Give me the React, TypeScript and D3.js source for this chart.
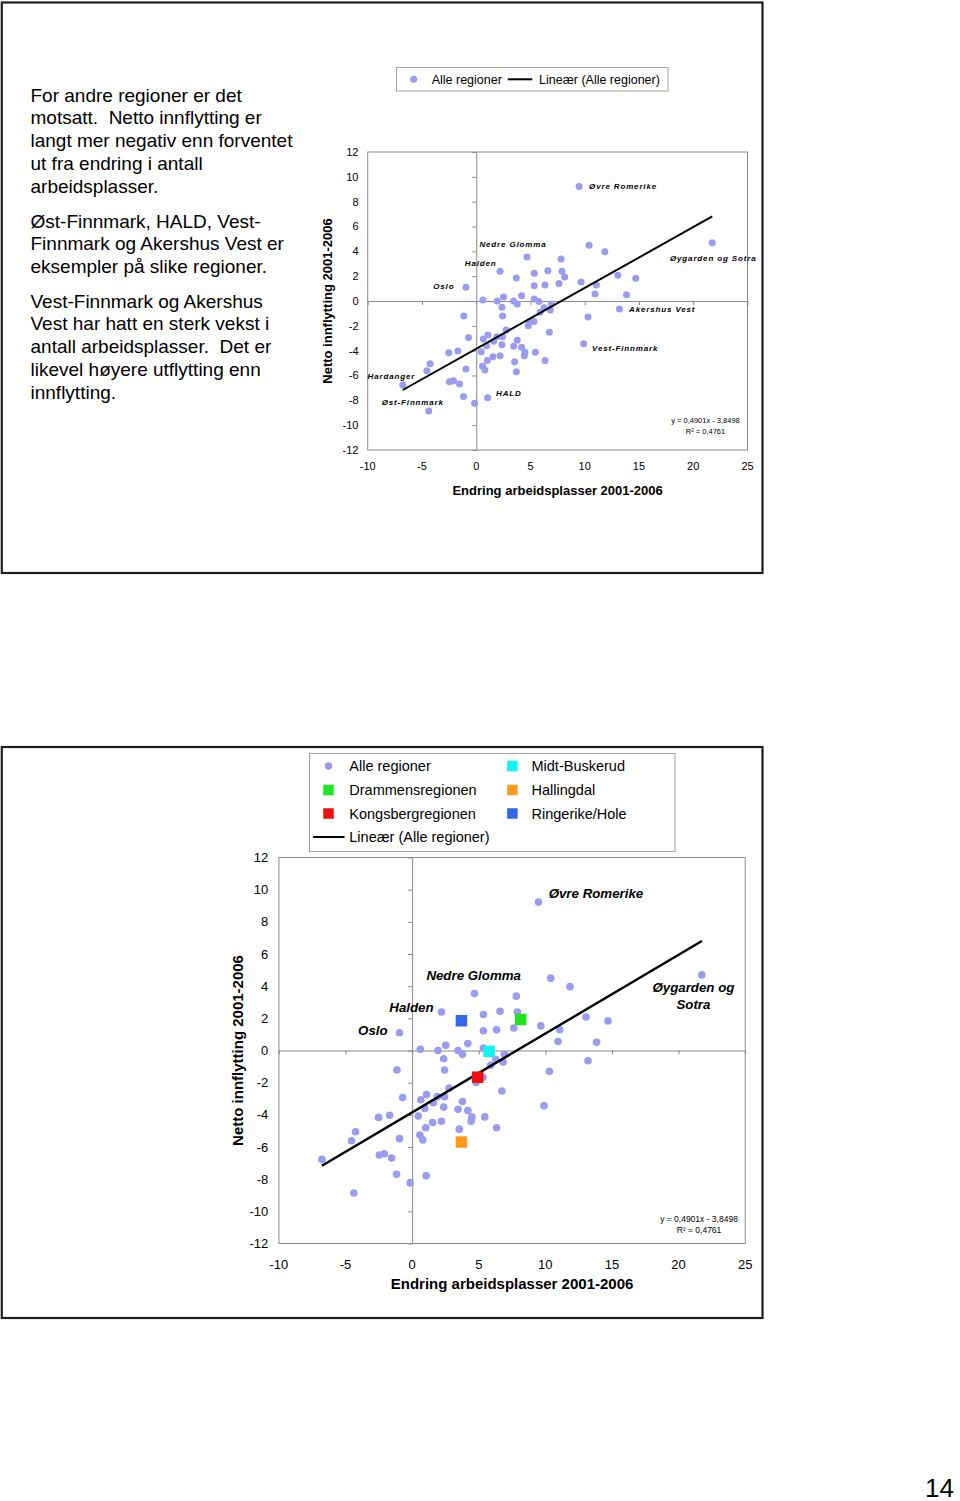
import React, { useEffect, useRef } from "react";
import * as d3 from "d3";

// Endring arbeidsplasser (x) og netto innflytting (y), 2001-2006, alle regioner
const alleRegioner: [number, number][] = [
  [9.48, 9.23], [10.4, 4.5], [11.85, 3.97], [21.75, 4.7], [4.68, 3.54],
  [7.82, 3.38], [2.2, 2.39], [3.7, 1.85], [5.35, 2.24], [6.6, 2.44],
  [7.9, 2.39], [8.15, 1.93], [9.66, 1.53], [13.05, 2.08], [14.7, 1.84],
  [-0.95, 1.1], [5.35, 1.23], [6.34, 1.29], [7.63, 1.4], [11.08, 1.29],
  [10.95, 0.56], [13.85, 0.51], [0.62, 0.08], [1.94, 0.0], [2.37, -0.51],
  [2.52, 0.32], [3.45, 0.0], [3.78, -0.24], [4.18, 0.43], [5.35, 0.16],
  [5.78, -0.05], [6.28, -0.54], [6.92, -0.24], [6.83, -0.72], [5.9, -0.91],
  [13.2, -0.64], [-1.14, -1.21], [2.43, -1.21], [10.3, -1.29], [5.32, -1.66],
  [4.92, -1.66], [4.8, -1.99], [-0.71, -2.93], [2.77, -2.34], [1.9, -2.87],
  [2.43, -2.87], [1.08, -2.74], [0.65, -3.06], [1.6, -3.25], [0.95, -3.6],
  [2.37, -3.52], [3.78, -3.17], [3.45, -3.65], [4.18, -3.73], [4.49, -4.13],
  [4.43, -4.4], [5.45, -4.13], [6.74, -2.52], [9.9, -3.44], [-2.52, -4.16],
  [-1.69, -4.03], [0.46, -4.08], [2.2, -4.4], [1.54, -4.48], [1.02, -4.8],
  [3.54, -4.89], [6.34, -4.8], [-4.25, -5.05], [-4.55, -5.61], [-0.95, -5.48],
  [0.58, -5.26], [0.8, -5.56], [3.7, -5.69], [-6.77, -6.77], [-2.46, -6.5],
  [-2.09, -6.42], [-1.54, -6.68], [-1.17, -7.7], [1.05, -7.79], [-0.15, -8.24],
  [-4.37, -8.86],
];

// which point belongs to a named region
const regionIndex: Record<string, number> = {
  "Øvre Romerike": 0,
  "Øygarden og Sotra": 3,
  "Nedre Glomma": 4,
  "Halden": 6,
  "Ringerike/Hole": 7,
  "Drammensregionen": 11,
  "Oslo": 15,
  "Midt-Buskerud": 30,
  "Akershus Vest": 35,
  "Kongsbergregionen": 40,
  "Vest-Finnmark": 58,
  "Hallingdal": 72,
  "Hardanger": 73,
  "Øst-Finnmark": 80,
};

const highlightRegions = ["Drammensregionen", "Kongsbergregionen", "Midt-Buskerud", "Hallingdal", "Ringerike/Hole"];
const highlightColors = ["#1ee61e", "#ee1111", "#11f5f5", "#ff9a1e", "#3366ee"];

const xTicks = [-10, -5, 0, 5, 10, 15, 20, 25];
const yTicks = [-12, -10, -8, -6, -4, -2, 0, 2, 4, 6, 8, 10, 12];

const trendSlope = 0.4901;
const trendIntercept = -3.8498;
const trendText = ["y = 0,4901x - 3,8498", "R² = 0,4761"];

const xTitle = "Endring arbeidsplasser 2001-2006";
const yTitle = "Netto innflytting 2001-2006";
const dotName = "Alle regioner";
const lineName = "Lineær (Alle regioner)";

const paragraphs = [
  ["For andre regioner er det", "motsatt.  Netto innflytting er", "langt mer negativ enn forventet", "ut fra endring i antall", "arbeidsplasser."],
  ["Øst-Finnmark, HALD, Vest-", "Finnmark og Akershus Vest er", "eksempler på slike regioner."],
  ["Vest-Finnmark og Akershus", "Vest har hatt en sterk vekst i", "antall arbeidsplasser.  Det er", "likevel høyere utflytting enn", "innflytting."],
];

const FONT = "'Liberation Sans', Arial, Helvetica, sans-serif";
const DOT = "#9b9bef";
const GREY = "#8a8a8a";

type Label = { name: string; text: string[]; dx: number; dy: number; anchor: string };

const topChart = {
  left: 367.7, right: 747.5, top: 152, bottom: 450,
  tickFont: 11, yLabelRight: 358.5, xLabelBaseline: 470, tickLen: 4,
  dotR: 3.5, lineWidth: 2,
  labelFont: 8, labelSpacing: 0.85, labelGap: 10,
  yTitleX: 327, yTitleFont: 13, xTitleFont: 13, xTitleBaseline: 494.5,
  eqFont: 7.5, eqX: 705.5, eqY: [423.3, 434],
  squares: false, squareSize: 11.5,
  labels: [
    { name: "Øvre Romerike", text: ["Øvre Romerike"], dx: 10, dy: 0, anchor: "start" },
    { name: "Nedre Glomma", text: ["Nedre Glomma"], dx: -14, dy: -12.7, anchor: "middle" },
    { name: "Halden", text: ["Halden"], dx: -3.5, dy: -8, anchor: "end" },
    { name: "Oslo", text: ["Oslo"], dx: -11.5, dy: -1.3, anchor: "end" },
    { name: "Øygarden og Sotra", text: ["Øygarden og Sotra"], dx: 1, dy: 15.7, anchor: "middle" },
    { name: "Akershus Vest", text: ["Akershus Vest"], dx: 9.6, dy: 0.4, anchor: "start" },
    { name: "Vest-Finnmark", text: ["Vest-Finnmark"], dx: 8.4, dy: 4.6, anchor: "start" },
    { name: "Hardanger", text: ["Hardanger"], dx: -11.3, dy: -8.8, anchor: "middle" },
    { name: "Øst-Finnmark", text: ["Øst-Finnmark"], dx: -16, dy: -8.7, anchor: "middle" },
    { name: "Hallingdal", text: ["HALD"], dx: -20.3, dy: 21.6, anchor: "start" },
  ] as Label[],
};

const bottomChart = {
  left: 278.9, right: 745.2, top: 857.5, bottom: 1243.5,
  tickFont: 13, yLabelRight: 268.3, xLabelBaseline: 1269, tickLen: 4,
  dotR: 3.8, lineWidth: 2.4,
  labelFont: 13.3, labelSpacing: 0, labelGap: 16.7,
  yTitleX: 238, yTitleFont: 15, xTitleFont: 15, xTitleBaseline: 1288.5,
  eqFont: 8.5, eqX: 699, eqY: [1221.5, 1233.3],
  squares: true, squareSize: 11.5,
  labels: [
    { name: "Øvre Romerike", text: ["Øvre Romerike"], dx: 10.2, dy: -9, anchor: "start" },
    { name: "Nedre Glomma", text: ["Nedre Glomma"], dx: -0.8, dy: -17.8, anchor: "middle" },
    { name: "Halden", text: ["Halden"], dx: -7.8, dy: -4.3, anchor: "end" },
    { name: "Oslo", text: ["Oslo"], dx: -11.8, dy: -2, anchor: "end" },
    { name: "Øygarden og Sotra", text: ["Øygarden og", "Sotra"], dx: -8.5, dy: 12.4, anchor: "middle" },
  ] as Label[],
};

function drawChart(svg: any, c: typeof topChart) {
  const g = svg.append("g").attr("font-family", FONT);
  const x = d3.scaleLinear().domain([xTicks[0], xTicks[xTicks.length - 1]]).range([c.left, c.right]);
  const y = d3.scaleLinear().domain([yTicks[0], yTicks[yTicks.length - 1]]).range([c.bottom, c.top]);

  g.append("rect")
    .attr("x", c.left).attr("y", c.top)
    .attr("width", c.right - c.left).attr("height", c.bottom - c.top)
    .attr("fill", "#fff").attr("stroke", GREY).attr("stroke-width", 1);

  // axes cross at zero, ticks on them
  const vAxis = g.append("g")
    .attr("transform", `translate(${x(0)},0)`)
    .call(d3.axisLeft(y).tickValues(yTicks).tickSize(c.tickLen).tickSizeOuter(0));
  const hAxis = g.append("g")
    .attr("transform", `translate(0,${y(0)})`)
    .call(d3.axisBottom(x).tickValues(xTicks).tickSize(c.tickLen).tickSizeOuter(0));
  [vAxis, hAxis].forEach((a) => {
    a.attr("color", GREY);
    a.selectAll("text").remove();
  });

  // tick labels sit at the edges of the plot
  g.append("g").selectAll("text").data(yTicks).join("text")
    .attr("x", c.yLabelRight).attr("y", (d: number) => y(d)).attr("dy", "0.35em")
    .attr("text-anchor", "end").attr("font-size", c.tickFont).attr("fill", "#000")
    .text((d: number) => String(d));
  g.append("g").selectAll("text").data(xTicks).join("text")
    .attr("x", (d: number) => x(d)).attr("y", c.xLabelBaseline)
    .attr("text-anchor", "middle").attr("font-size", c.tickFont).attr("fill", "#000")
    .text((d: number) => String(d));

  g.append("g").selectAll("circle").data(alleRegioner).join("circle")
    .attr("cx", (d: [number, number]) => x(d[0]))
    .attr("cy", (d: [number, number]) => y(d[1]))
    .attr("r", c.dotR).attr("fill", DOT);

  const [x0, x1] = d3.extent(alleRegioner, (d) => d[0]) as [number, number];
  const trend = (v: number) => trendSlope * v + trendIntercept;
  g.append("path")
    .attr("d", d3.line()([[x(x0), y(trend(x0))], [x(x1), y(trend(x1))]]))
    .attr("stroke", "#000").attr("stroke-width", c.lineWidth).attr("fill", "none");

  if (c.squares) {
    const s = c.squareSize;
    g.append("g").selectAll("rect").data(highlightRegions).join("rect")
      .attr("x", (d: string) => x(alleRegioner[regionIndex[d]][0]) - s / 2)
      .attr("y", (d: string) => y(alleRegioner[regionIndex[d]][1]) - s / 2)
      .attr("width", s).attr("height", s)
      .attr("fill", (_: string, i: number) => highlightColors[i]);
  }

  c.labels.forEach((l) => {
    const p = alleRegioner[regionIndex[l.name]];
    const t = g.append("text")
      .attr("x", x(p[0]) + l.dx).attr("y", y(p[1]) + l.dy)
      .attr("text-anchor", l.anchor).attr("font-size", c.labelFont)
      .attr("font-weight", "bold").attr("font-style", "italic")
      .attr("letter-spacing", c.labelSpacing).attr("fill", "#000");
    l.text.forEach((line, i) => {
      t.append("tspan").attr("x", x(p[0]) + l.dx)
        .attr("y", y(p[1]) + l.dy + i * c.labelGap).attr("dy", "0.35em").text(line);
    });
  });

  trendText.forEach((txt, i) => {
    g.append("text").attr("x", c.eqX).attr("y", c.eqY[i])
      .attr("text-anchor", "middle").attr("font-size", c.eqFont).attr("fill", "#000").text(txt);
  });

  g.append("text")
    .attr("transform", `translate(${c.yTitleX},${(c.top + c.bottom) / 2}) rotate(-90)`)
    .attr("dy", "0.35em").attr("text-anchor", "middle")
    .attr("font-size", c.yTitleFont).attr("font-weight", "bold").text(yTitle);
  g.append("text")
    .attr("x", (c.left + c.right) / 2).attr("y", c.xTitleBaseline)
    .attr("text-anchor", "middle").attr("font-size", c.xTitleFont).attr("font-weight", "bold")
    .text(xTitle);
}

type LegendItem = { name: string; kind: string; color: string; x: number; y: number };

function drawLegend(svg: any, box: number[], items: LegendItem[], dotR: number, sq: number, lineLen: number) {
  const g = svg.append("g").attr("font-family", FONT);
  g.append("rect").attr("x", box[0]).attr("y", box[1]).attr("width", box[2]).attr("height", box[3])
    .attr("fill", "#fff").attr("stroke", "#a0a0a0").attr("stroke-width", 1);
  items.forEach((it) => {
    if (it.kind === "dot") {
      g.append("circle").attr("cx", it.x).attr("cy", it.y).attr("r", dotR).attr("fill", it.color);
    } else if (it.kind === "square") {
      g.append("rect").attr("x", it.x - sq / 2).attr("y", it.y - sq / 2).attr("width", sq).attr("height", sq).attr("fill", it.color);
    } else {
      g.append("line").attr("x1", it.x - lineLen / 2).attr("x2", it.x + lineLen / 2)
        .attr("y1", it.y).attr("y2", it.y).attr("stroke", "#000").attr("stroke-width", 2);
    }
  });
  return g;
}

export default function App() {
  const svgRef = useRef<SVGSVGElement>(null);

  useEffect(() => {
    const svg = d3.select(svgRef.current);
    svg.selectAll("*").remove();

    svg.append("rect").attr("width", 960).attr("height", 1501).attr("fill", "#fff");

    // page frames
    [[1.8, 2.5, 760.7, 570.5], [1.8, 747, 760.7, 571]].forEach((f) => {
      svg.append("rect").attr("x", f[0]).attr("y", f[1]).attr("width", f[2]).attr("height", f[3])
        .attr("fill", "none").attr("stroke", "#1e1e1e").attr("stroke-width", 2.2);
    });

    // left text column
    const txt = svg.append("g").attr("font-family", FONT).attr("font-size", 19).attr("fill", "#000");
    const starts = [101.7, 227.7, 307.7];
    paragraphs.forEach((para, p) => {
      para.forEach((line, i) => {
        txt.append("text").attr("x", 30.5).attr("y", starts[p] + i * 22.75)
          .style("white-space", "pre").text(line);
      });
    });

    drawChart(svg, topChart);
    drawChart(svg, bottomChart);

    // top legend
    const lt = drawLegend(svg, [396.5, 67.5, 271.5, 23.5], [
      { name: dotName, kind: "dot", color: DOT, x: 413.7, y: 79.3 },
      { name: lineName, kind: "line", color: "#000", x: 520, y: 79.3 },
    ], 3.5, 0, 24.6);
    lt.append("text").attr("x", 431.7).attr("y", 83.8).attr("font-size", 12.5).text(dotName);
    lt.append("text").attr("x", 539).attr("y", 83.8).attr("font-size", 12.5).text(lineName);

    // bottom legend
    const rows = [766, 790, 813.5, 837];
    const legendItems: LegendItem[] = [
      { name: dotName, kind: "dot", color: DOT, x: 328.5, y: rows[0] },
      { name: highlightRegions[0], kind: "square", color: highlightColors[0], x: 328.5, y: rows[1] },
      { name: highlightRegions[1], kind: "square", color: highlightColors[1], x: 328.5, y: rows[2] },
      { name: lineName, kind: "line", color: "#000", x: 328.8, y: rows[3] },
      { name: highlightRegions[2], kind: "square", color: highlightColors[2], x: 512.4, y: rows[0] },
      { name: highlightRegions[3], kind: "square", color: highlightColors[3], x: 512.4, y: rows[1] },
      { name: highlightRegions[4], kind: "square", color: highlightColors[4], x: 512.4, y: rows[2] },
    ];
    const lb = drawLegend(svg, [309.5, 753.5, 365.5, 98], legendItems, 3.7, 10.5, 31.5);
    legendItems.forEach((it) => {
      lb.append("text").attr("x", it.x < 400 ? 349.3 : 531.5).attr("y", it.y + 5.2)
        .attr("font-size", 14.5).text(it.name);
    });

    // page number
    svg.append("text").attr("x", 954).attr("y", 1496.5).attr("text-anchor", "end")
      .attr("font-family", FONT).attr("font-size", 26).text("14");
  }, []);

  return (
    <svg
      ref={svgRef}
      width={960}
      height={1501}
      style={{ position: "absolute", left: 0, top: 0, display: "block" }}
    />
  );
}
